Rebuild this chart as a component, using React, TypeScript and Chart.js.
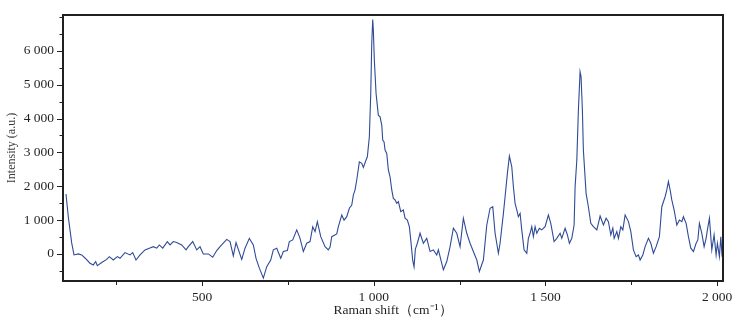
import React, { useEffect, useRef } from "react";
import { Chart, registerables } from "chart.js";

Chart.register(...registerables);

// Raman shift (cm^-1)
const shift = [
  103.7, 110.4, 120.3, 127, 139.6, 149.5, 159, 173.6, 183.3, 190.2, 194.9, 207.7, 222.3, 229.9, 241.5, 253.2, 261, 275.6,
  290.1, 298, 307.6, 319.3, 333.8, 346.4, 358, 367.9, 375.5, 385.4, 398.8, 406.7, 416.3, 426.2, 440.7, 453.3, 460, 472.8,
  484.4, 494, 503.6, 518.2, 531, 542.7, 552.3, 571.8, 581.4, 591, 598.9, 615.5, 625.1, 637.6, 649.3, 657.1, 666.8, 678.4,
  688.3, 699.9, 707.5, 717.4, 729.1, 736.6, 748.3, 754.1, 764, 775.7, 785.3, 794.9, 804.8, 814.4, 822.3, 829, 835.7, 845.6,
  858.1, 867.7, 872.7, 877.6, 892.2, 896.9, 906.8, 913.4, 921.3, 928.9, 935.9, 940.5, 945.5, 950.4, 958, 965, 969.7, 977.5,
  981.3, 987.1, 991.2, 994.1, 997, 998.8, 1001.7, 1006.7, 1013.3, 1018.3, 1023.3, 1026.1, 1030, 1032.9, 1037.8, 1042.5,
  1047.4, 1052.4, 1057, 1062, 1066.9, 1071.6, 1078.6, 1086.1, 1091.1, 1097.8, 1103.6, 1107.7, 1113.5, 1117.3, 1121.1,
  1126.9, 1134.8, 1144.4, 1154.3, 1164, 1173.6, 1183.4, 1188.1, 1202.7, 1212.6, 1222.2, 1231.8, 1241.7, 1251.3, 1260.9,
  1270.8, 1280.4, 1290, 1300, 1307.5, 1319.2, 1329.1, 1338.7, 1346.5, 1353.3, 1362.9, 1367.8, 1377.5, 1382.4, 1389.1,
  1394.9, 1401.9, 1406.6, 1411.5, 1416.5, 1421.1, 1426.1, 1431, 1437.7, 1445.6, 1450.2, 1455.2, 1460.1, 1464.8, 1469.8,
  1474.7, 1482.3, 1489.3, 1498.9, 1508.5, 1515.5, 1525.1, 1533, 1542.6, 1547.5, 1557.2, 1563.9, 1569.7, 1576.7, 1583.4,
  1586.3, 1591.3, 1595.9, 1600.8, 1603.7, 1607.5, 1610.4, 1618.3, 1625, 1632, 1639.6, 1649.5, 1654.2, 1659.1, 1668.8,
  1676.6, 1683.3, 1690.3, 1696.2, 1700, 1707.8, 1712.5, 1719.4, 1725.3, 1732, 1741.6, 1748.6, 1756.1, 1764, 1770.7,
  1775.6, 1783.5, 1790.2, 1799.8, 1806.8, 1814.4, 1822.2, 1831.8, 1838.8, 1848.4, 1853.4, 1858, 1863, 1867.9, 1874.6,
  1882.5, 1890.1, 1897.1, 1901.7, 1909.6, 1916.3, 1923.3, 1930.9, 1938.7, 1943.7, 1948.3, 1955.3, 1962, 1967.8, 1971.6,
  1977.5, 1984.4, 1991.1, 1996.9, 2000.7, 2006.5, 2010.6, 2014.4,
];

// Intensity (a.u.)
const intensity = [
  1770, 1100, 325, -30, 0, -30, -120, -275, -325, -225, -345, -255, -160, -80, -180, -80, -130, 40,
  -30, 40, -180, -30, 120, 170, 215, 170, 265, 170, 365, 265, 365, 335, 265, 120, 215, 365,
  120, 215, 0, 0, -100, 100, 215, 430, 365, -60, 335, -160, 170, 460, 265, -130, -420, -715,
  -375, -180, 120, 170, -130, 70, 100, 365, 415, 710, 460, 70, 315, 365, 805, 660, 955, 510,
  215, 120, 200, 510, 590, 805, 1150, 1000, 1100, 1350, 1445, 1740, 1890, 2185, 2720, 2675, 2555, 2775,
  2870, 3460, 4740, 6215, 6925, 6610, 5720, 4740, 4100, 4050, 3805, 3365, 3310, 3070, 2970, 2480,
  2280, 1890, 1640, 1595, 1495, 1545, 1250, 1300, 1055, 1000, 805, 415, -200, -380, 140,
  315, 610, 315, 460, 70, 120, -30, 120, -470, -225, 215, 760, 610, 215, 1055,
  610, 315, 70, -180, -520, -180, 855, 1350, 1395, 610, 20, 315, 1200, 1690, 2380,
  2890, 2575, 1985, 1495, 1300, 1100, 1200, 710, 120, 20, 460, 610, 805, 510, 805,
  610, 760, 710, 805, 1150, 905, 365, 460, 610, 460, 760, 560, 315, 460, 855,
  1985, 2775, 4250, 5380, 5235, 4250, 3070, 1790, 1395, 905, 805, 710, 905, 1120, 855,
  1055, 955, 560, 760, 460, 660, 460, 805, 710, 1150, 955, 660, 120, -80, -30,
  -180, -30, 215, 460, 315, 20, 215, 510, 1395, 1690, 1890, 2135, 1890, 1595, 1300,
  855, 1000, 955, 1100, 905, 510, 170, 70, 315, 415, 905, 610, 215, 460, 710,
  1055, 120, 560, -30, 315, -80, 510, -80,
];

// Axis ticks
const xTickValues = [250, 500, 750, 1000, 1250, 1500, 1750, 2000];
const xLabelValues = [500, 1000, 1500, 2000];
const yTickValues = [-500, 0, 500, 1000, 1500, 2000, 2500, 3000, 3500, 4000, 4500, 5000, 5500, 6000, 6500, 7000];
const yLabelValues = [0, 1000, 2000, 3000, 4000, 5000, 6000];

const X_MIN = 95;
const X_MAX = 2017;
const Y_MIN = -800;
const Y_MAX = 7060;

const INK = "#231f20";
const LINE = "#2f4b97";
const FONT = "'Liberation Serif', 'Times New Roman', serif";

const fmt = (v: number) => String(v).replace(/\B(?=(\d{3})+(?!\d))/g, " ");

const framePlugin = {
  id: "frameTicks",
  afterDraw(chart: any) {
    const { ctx, chartArea: a, scales } = chart;
    const xs = scales.x;
    const ys = scales.y;
    ctx.save();
    ctx.strokeStyle = INK;
    ctx.lineWidth = 1;
    for (const v of yTickValues) {
      const y = Math.round(ys.getPixelForValue(v)) + 0.5;
      const len = yLabelValues.includes(v) ? 6 : 3.5;
      ctx.beginPath();
      ctx.moveTo(a.left - len, y);
      ctx.lineTo(a.left, y);
      ctx.stroke();
    }
    for (const v of xTickValues) {
      const x = Math.round(xs.getPixelForValue(v)) + 0.5;
      const len = xLabelValues.includes(v) ? 5 : 4;
      ctx.beginPath();
      ctx.moveTo(x, a.bottom);
      ctx.lineTo(x, a.bottom + len);
      ctx.stroke();
    }
    ctx.lineWidth = 2;
    ctx.strokeRect(a.left, a.top, a.right - a.left, a.bottom - a.top);
    ctx.restore();
  },
};

export default function App() {
  const ref = useRef<HTMLCanvasElement | null>(null);

  useEffect(() => {
    document.body.style.margin = "0";
    if (!ref.current) return;
    const points = shift.map((x, i) => ({ x, y: intensity[i] }));
    const chart = new Chart(ref.current, {
      type: "line",
      data: {
        datasets: [
          {
            data: points,
            borderColor: LINE,
            borderWidth: 1.1,
            pointRadius: 0,
            tension: 0,
            fill: false,
          },
        ],
      },
      options: {
        animation: false,
        responsive: true,
        maintainAspectRatio: false,
        layout: { padding: { top: 15, right: 10, left: 0, bottom: 0 } },
        plugins: { legend: { display: false }, tooltip: { enabled: false } },
        scales: {
          x: {
            type: "linear",
            min: X_MIN,
            max: X_MAX,
            grid: { display: false, drawTicks: false },
            border: { display: false },
            afterBuildTicks: (s: any) => {
              s.ticks = xLabelValues.map((v) => ({ value: v }));
            },
            afterFit: (s: any) => {
              s.height = 44;
              s.paddingLeft = 0;
              s.paddingRight = 0;
            },
            ticks: {
              autoSkip: false,
              maxRotation: 0,
              padding: 8,
              color: INK,
              font: { family: FONT, size: 13.5 },
              callback: (v: any) => fmt(Number(v)),
            },
            title: {
              display: true,
              text: "Raman shift（cm⁻¹）",
              color: INK,
              font: { family: FONT, size: 13.5 },
              padding: { top: 6, bottom: 6 },
            },
          },
          y: {
            type: "linear",
            min: Y_MIN,
            max: Y_MAX,
            grid: { display: false, drawTicks: false },
            border: { display: false },
            afterBuildTicks: (s: any) => {
              s.ticks = yLabelValues.map((v) => ({ value: v }));
            },
            afterFit: (s: any) => {
              s.width = 63;
              s.paddingTop = 0;
              s.paddingBottom = 0;
            },
            ticks: {
              autoSkip: false,
              padding: 9,
              color: INK,
              font: { family: FONT, size: 13.5 },
              callback: (v: any) => fmt(Number(v)),
            },
            title: {
              display: true,
              text: "Intensity (a.u.)",
              color: "#3a3a3a",
              font: { family: FONT, size: 12 },
              padding: { top: 5, bottom: 5 },
            },
          },
        },
      },
      plugins: [framePlugin],
    });
    return () => chart.destroy();
  }, []);

  return (
    <div style={{ position: "absolute", left: 0, top: 0, width: 733, height: 325, background: "#fff" }}>
      <canvas ref={ref} />
    </div>
  );
}
